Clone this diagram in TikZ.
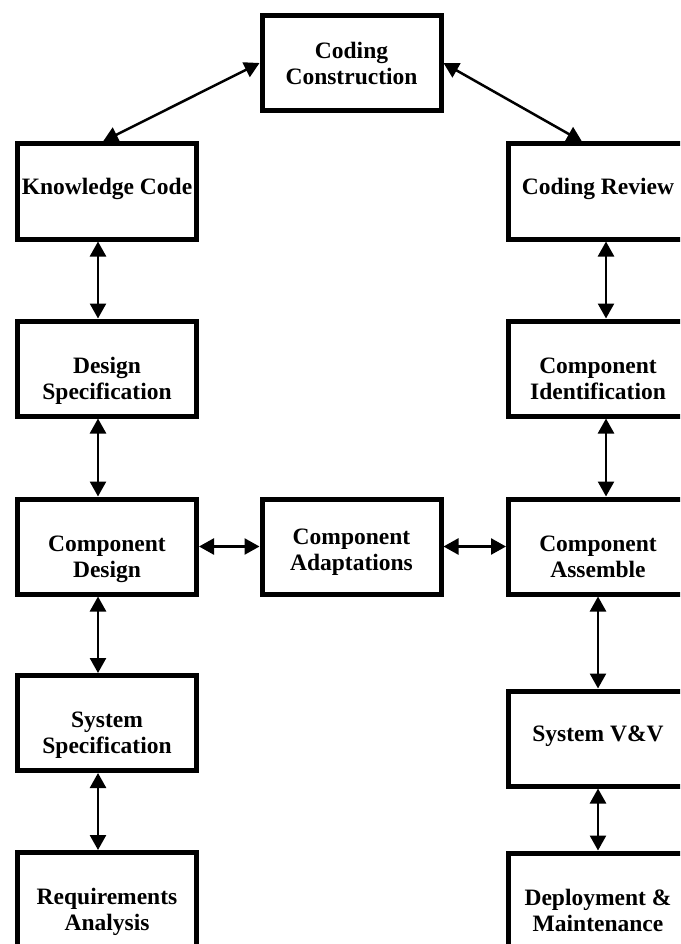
\documentclass[tikz,border=0pt]{standalone}
\usepackage{fontspec}
\setmainfont{Liberation Serif}
\usetikzlibrary{arrows.meta}

\tikzset{
  stage/.style={draw, line width=5pt, minimum width=179pt, minimum height=95pt,
    inner sep=0pt, align=center, font=\bfseries\fontsize{23.5}{26}\selectfont},
  link/.style={<->, >={Triangle[length=15pt,width=16pt]}, line width=2.5pt}
}

\begin{document}
\begin{tikzpicture}[x=1pt,y=-1pt]

\def\ONE{\rule[-10pt]{0pt}{19pt}}
\def\TWO{\rule{0pt}{45pt}}
\def\LAST{\rule[-10pt]{0pt}{0pt}}
	\clip (0,0) rectangle (680,944);

	% top
	\node[stage] (cc) at (351.5,63) {Coding\\Construction};

	% left column
	\node[stage] (kc) at (107,191.5) {\ONE Knowledge Code};
	\node[stage] (ds) at (107,368.5) {\TWO Design\\Specification\LAST};
	\node[stage] (cd) at (107,546.5) {\TWO Component\\Design\LAST};
	\node[stage] (ss) at (107,723) {\TWO System\\Specification\LAST};
	\node[stage] (ra) at (107,900) {\TWO Requirements\\Analysis\LAST};

	% middle
	\node[stage] (cad) at (351.5,546.5) {\rule{0pt}{31pt}Component\\Adaptations\LAST};

	% right column
	\node[stage] (cr) at (598,191.5) {\ONE Coding Review};
	\node[stage] (ci) at (598,368.5) {\TWO Component\\Identification\LAST};
	\node[stage] (cas) at (598,546.5) {\TWO Component\\Assemble\LAST};
	\node[stage] (sv) at (598,738.5) {\ONE System V\&V};
	\node[stage] (dm) at (598,900.5) {\TWO Deployment \&\\Maintenance\LAST};

	% links
	\draw[link] ([xshift=-4pt]kc.north) -- (cc.west);
	\draw[link] (cc.east) -- ([xshift=-16pt]cr.north);
	\draw[link] ([xshift=-9pt]kc.south) -- ([xshift=-9pt]ds.north);
	\draw[link] ([xshift=-9pt]ds.south) -- ([xshift=-9pt]cd.north);
	\draw[link] ([xshift=-9pt]cd.south) -- ([xshift=-9pt]ss.north);
	\draw[link] ([xshift=-9pt]ss.south) -- ([xshift=-9pt]ra.north);
	\draw[link] (cd.east) -- (cad.west);
	\draw[link] (cad.east) -- (cas.west);
	\draw[link] ([xshift=8pt]cr.south) -- ([xshift=8pt]ci.north);
	\draw[link] ([xshift=8pt]ci.south) -- ([xshift=8pt]cas.north);
	\draw[link] (cas.south) -- (sv.north);
	\draw[link] (sv.south) -- (dm.north);

\end{tikzpicture}
\end{document}
